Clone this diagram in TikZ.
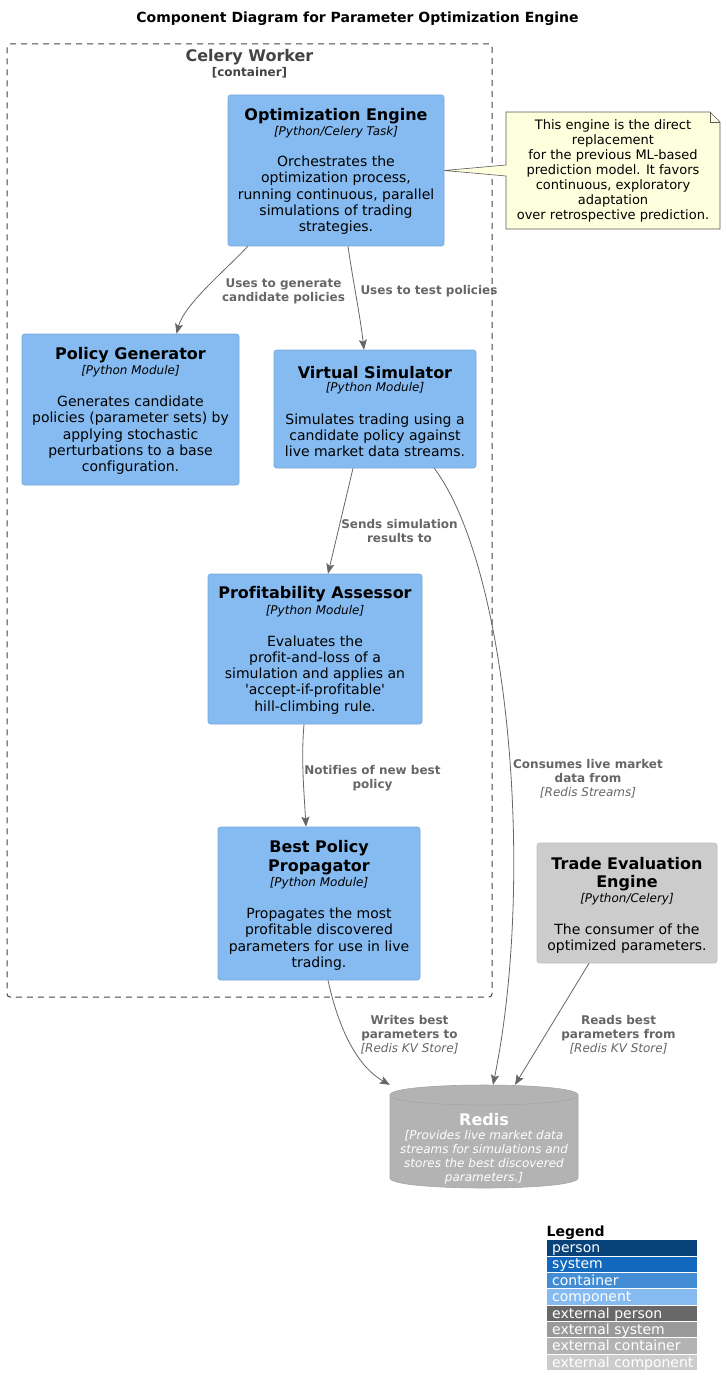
\documentclass[tikz,border=0pt]{standalone}
\usepackage{fontspec}
\setmainfont{DejaVu Sans}[Ligatures={TeXOff,NoCommon}]
\usetikzlibrary{arrows.meta,calc}
\definecolor{compbg}{HTML}{85BBF0}
\definecolor{compbd}{HTML}{78A8D8}
\definecolor{extbg}{HTML}{CCCCCC}
\definecolor{extbd}{HTML}{BFBFBF}
\definecolor{dbbg}{HTML}{B3B3B3}
\definecolor{dbbd}{HTML}{A6A6A6}
\definecolor{relc}{HTML}{666666}
\definecolor{bndc}{HTML}{444444}
\definecolor{notebg}{HTML}{FEFFDD}
\definecolor{notebd}{HTML}{5A5A5A}
\definecolor{lgperson}{HTML}{08427B}
\definecolor{lgsystem}{HTML}{1168BD}
\definecolor{lgcontainer}{HTML}{438DD5}
\definecolor{lgcomponent}{HTML}{85BBF0}
\definecolor{lgextperson}{HTML}{686868}
\definecolor{lgextsystem}{HTML}{999999}
\definecolor{lgextcontainer}{HTML}{B3B3B3}
\definecolor{lgextcomponent}{HTML}{CCCCCC}
\newcommand\fsz[2]{\fontsize{#1}{#2}\selectfont}
\newcommand\legtext[1]{\makebox[140pt][l]{#1}}
\begin{document}
\begin{tikzpicture}[x=1pt,y=-1pt,
  comp/.style={draw=compbd, fill=compbg, rounded corners=2.5pt, inner sep=0, line width=0.6pt},
  extcomp/.style={draw=extbd, fill=extbg, rounded corners=2.5pt, inner sep=0, line width=0.6pt},
  ttl/.style={font=\fsz{16}{18.6}\bfseries, align=center, inner sep=0, yshift=-1.5pt},
  stereo/.style={font=\fsz{12}{14}\itshape, inner sep=0, yshift=-1pt},
  desc/.style={font=\fsz{14}{16.3}, align=center, inner sep=0, yshift=-1pt},
  lbl/.style={font=\fsz{12}{14}\bfseries, text=relc, align=center, inner sep=0, yshift=-1pt},
  rel/.style={draw=relc, line width=0.8pt, -{Stealth[length=10pt,width=8pt,inset=2pt]}},
  legbar/.style={anchor=north west, minimum width=150pt, minimum height=15.3pt, inner xsep=5pt, inner ysep=0pt, text=white, font=\fsz{14}{16.3}, text height=12pt, text depth=2.5pt}
]
\useasboundingbox (0,0) rectangle (727,1396);
\fill[white] (0,0) rectangle (727,1396);

% title
\node[font=\fsz{14}{16.3}\bfseries, inner sep=0, yshift=-1pt] (title) at (357.5,18) {Component Diagram for Parameter Optimization Engine};

% container boundary
\node[draw=bndc, dash pattern=on 6pt off 5pt, rounded corners=3pt, minimum width=485pt, minimum height=953pt, inner sep=0, line width=1pt] (cw) at (249.5,520.5) {};
\node[font=\fsz{16}{18.6}\bfseries, text=bndc, inner sep=0, yshift=-1.5pt] (cwt) at (249.5,56) {Celery Worker};
\node[font=\fsz{12}{14}\bfseries, text=bndc, inner sep=0, yshift=-1pt] (cws) at (249.5,72) {[container]};

% Optimization Engine
\node[comp, minimum width=216pt, minimum height=151pt] (opt) at (336,170.5) {};
\node[ttl] (optt) at (336,115) {Optimization Engine};
\node[stereo] (opts) at (336,130.7) {[Python/Celery Task]};
\node[desc] (optd) at (336,194.2) {Orchestrates the\\optimization process,\\running continuous, parallel\\simulations of trading\\strategies.};

% Policy Generator
\node[comp, minimum width=217pt, minimum height=151pt] (pg) at (130.5,409.5) {};
\node[ttl] (pgt) at (130.5,354) {Policy Generator};
\node[stereo] (pgs) at (130.5,370) {[Python Module]};
\node[desc] (pgd) at (130.5,434.2) {Generates candidate\\policies (parameter sets) by\\applying stochastic\\perturbations to a base\\configuration.};

% Virtual Simulator
\node[comp, minimum width=202pt, minimum height=118pt] (vs) at (375,409) {};
\node[ttl] (vst) at (375,370.7) {Virtual Simulator};
\node[stereo] (vss) at (375,386.7) {[Python Module]};
\node[desc] (vsd) at (375,434.2) {Simulates trading using a\\candidate policy against\\live market data streams.};

% Profitability Assessor
\node[comp, minimum width=214pt, minimum height=150pt] (pa) at (315,649) {};
\node[ttl] (pat) at (315,593) {Profitability Assessor};
\node[stereo] (pas) at (315,610) {[Python Module]};
\node[desc] (pad) at (315,673.8) {Evaluates the\\profit-and-loss of a\\simulation and applies an\\'accept-if-profitable'\\hill-climbing rule.};

% Best Policy Propagator
\node[comp, minimum width=202pt, minimum height=153pt] (bp) at (319,903.5) {};
\node[ttl] (bpt) at (319,856.2) {Best Policy\\Propagator};
\node[stereo] (bps) at (319,882.3) {[Python Module]};
\node[desc] (bpd) at (319,938) {Propagates the most\\profitable discovered\\parameters for use in live\\trading.};

% Trade Evaluation Engine
\node[extcomp, minimum width=180pt, minimum height=120pt] (te) at (627,903) {};
\node[ttl] (tet) at (627,872.8) {Trade Evaluation\\Engine};
\node[stereo] (tes) at (627,898.3) {[Python/Celery]};
\node[desc] (ted) at (627,937.3) {The consumer of the\\optimized parameters.};

% Redis database
\node[inner sep=0, minimum width=188pt, minimum height=103pt] (redis) at (484,1136.5) {};
\filldraw[fill=dbbg, draw=dbbd, line width=0.6pt] (390,1095) .. controls (390,1081.7) and (578,1081.7) .. (578,1095) -- (578,1178) .. controls (578,1191.3) and (390,1191.3) .. (390,1178) -- cycle;
\draw[dbbd, line width=0.6pt] (390,1095) .. controls (390,1108.3) and (578,1108.3) .. (578,1095);
\node[font=\fsz{16}{18.6}\bfseries, text=white, inner sep=0, yshift=-1.5pt] (redist) at (484,1118) {Redis};
\node[font=\fsz{12}{14}\itshape, text=white, align=center, inner sep=0, yshift=-1pt] (redisd) at (484,1155.9) {[Provides live market data\\streams for simulations and\\stores the best discovered\\parameters.]};

% note
\filldraw[fill=notebg, draw=notebd, line width=0.6pt] (506,112) -- (710,112) -- (720,122) -- (720,229) -- (506,229) -- (506,176) -- (opt.east) -- (506,165) -- cycle;
\draw[notebd, line width=0.6pt] (710,112) -- (710,122) -- (720,122);
\node[font=\fsz{13}{15.1}, align=center, inner sep=0, yshift=-1pt] (note) at (613,170) {This engine is the direct\\replacement\\for the previous ML-based\\prediction model. It favors\\continuous, exploratory\\adaptation\\over retrospective prediction.};

% relations
\draw[rel] ($(opt.south west)+(20,0)$) .. controls +(-20,22) and +(8,-30) .. ($(pg.north)+(46,0)$);
\draw[rel] ($(opt.south)+(12,0)$) .. controls +(5,35) and +(-4,-35) .. ($(vs.north)+(-11,0)$);
\draw[rel] ($(vs.south)+(-22,0)$) -- ($(pa.north)+(13,0)$);
\draw[rel] ($(pa.south)+(-11,0)$) .. controls +(-3,35) and +(-2,-35) .. ($(bp.north)+(-13,0)$);
\draw[rel] ($(vs.south east)+(-42,0)$) .. controls (510,570) and (535,880) .. ($(redis.north)+(9,0)$);
\draw[rel] ($(bp.south)+(9,0)$) .. controls (340,1035) and (360,1068) .. (redis.north west);
\draw[rel] ($(te.south)+(-38,0)$) -- ($(redis.north)+(31,0)$);

% relation labels
\node[lbl] (l1) at (283.5,290) {Uses to generate\\candidate policies};
\node[lbl] (l2) at (429,290) {Uses to test policies};
\node[lbl] (l3) at (399.5,530) {Sends simulation\\results to};
\node[lbl] (l4) at (372.5,777) {Notifies of new best\\policy};
\node[lbl] (l5) at (588,777.5) {Consumes live market\\data from\\{\mdseries\itshape [Redis Streams]}};
\node[lbl] (l6) at (409.5,1034) {Writes best\\parameters to\\{\mdseries\itshape [Redis KV Store]}};
\node[lbl] (l7) at (618.5,1034) {Reads best\\parameters from\\{\mdseries\itshape [Redis KV Store]}};

% legend
\node[font=\fsz{14}{16.3}\bfseries, anchor=west, inner sep=0] (legt) at (546.5,1232.5) {Legend};
\node[legbar, fill=lgperson] (lg0) at (547,1240) {\legtext{person}};
\node[legbar, fill=lgsystem] (lg1) at (547,1256.35) {\legtext{system}};
\node[legbar, fill=lgcontainer] (lg2) at (547,1272.7) {\legtext{container}};
\node[legbar, fill=lgcomponent] (lg3) at (547,1289.05) {\legtext{component}};
\node[legbar, fill=lgextperson] (lg4) at (547,1305.4) {\legtext{external person}};
\node[legbar, fill=lgextsystem] (lg5) at (547,1321.75) {\legtext{external system}};
\node[legbar, fill=lgextcontainer] (lg6) at (547,1338.1) {\legtext{external container}};
\node[legbar, fill=lgextcomponent] (lg7) at (547,1354.45) {\legtext{external component}};
\end{tikzpicture}
\end{document}
